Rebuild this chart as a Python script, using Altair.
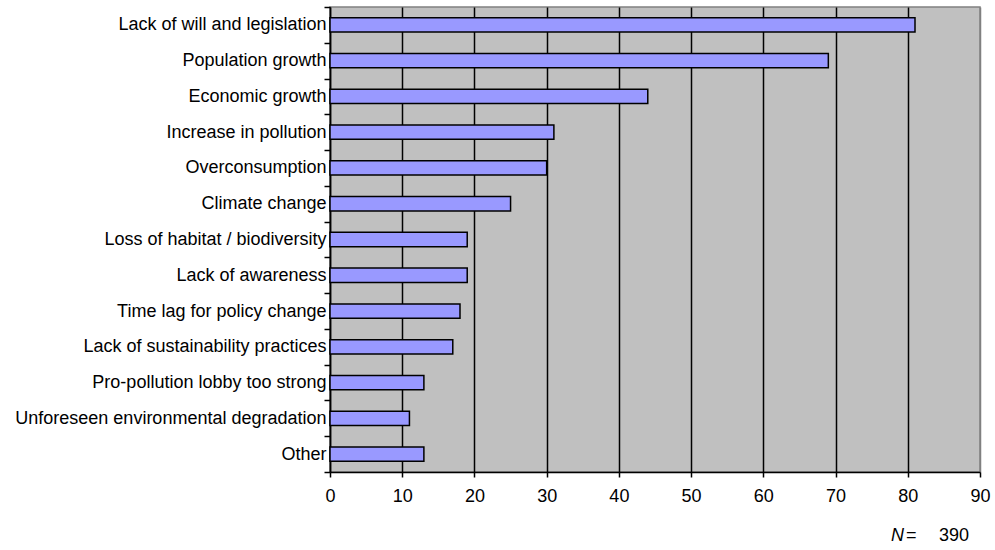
import altair as alt
import pandas as pd

# Perceived obstacles to sustainability (number of respondents)
categories = [
    "Lack of will and legislation",
    "Population growth",
    "Economic growth",
    "Increase in pollution",
    "Overconsumption",
    "Climate change",
    "Loss of habitat / biodiversity",
    "Lack of awareness",
    "Time lag for policy change",
    "Lack of sustainability practices",
    "Pro-pollution lobby too strong",
    "Unforeseen environmental degradation",
    "Other",
]
counts = [81, 69, 44, 31, 30, 25, 19, 19, 18, 17, 13, 11, 13]
x_ticks = [0, 10, 20, 30, 40, 50, 60, 70, 80, 90]

df = pd.DataFrame({"cause": categories, "count": counts})

FONT = "Liberation Sans"
W, H = 650, 465

bars = alt.Chart(df).mark_bar(
    color="#9999FF", stroke="black", strokeWidth=1.5,
    height=alt.RelativeBandSize(0.4),
).encode(
    x=alt.X(
        "count:Q",
        scale=alt.Scale(domain=[0, 90], nice=False),
        axis=alt.Axis(
            values=x_ticks, title=None, grid=True,
            gridColor={"condition": {"test": "datum.value == 90", "value": "#808080"},
                       "value": "black"},
            gridWidth=1.5, domainColor="black", domainWidth=1.5,
            tickColor="black", tickWidth=1.5, tickSize=5,
            labelFont=FONT, labelFontSize=18, labelColor="black",
            labelPadding=10, labelFlush=False,
        ),
    ),
    y=alt.Y(
        "cause:N",
        sort=categories,
        scale=alt.Scale(paddingInner=0, paddingOuter=0),
        axis=alt.Axis(
            title=None, tickBand="extent", grid=False,
            domainColor="black", domainWidth=1.5,
            tickColor="black", tickWidth=1.5, tickSize=6,
            labelFont=FONT, labelFontSize=18, labelColor="black",
            labelPadding=-2, labelLimit=400,
        ),
    ),
)

note_style = dict(font=FONT, fontSize=18, color="black", baseline="middle")
n_label = alt.Chart(pd.DataFrame({"t": ["N"]})).mark_text(
    align="left", fontStyle="italic", **note_style
).encode(text="t:N", x=alt.value(561), y=alt.value(529))
eq_label = alt.Chart(pd.DataFrame({"t": ["="]})).mark_text(
    align="left", **note_style
).encode(text="t:N", x=alt.value(576), y=alt.value(529))
n_value = alt.Chart(pd.DataFrame({"t": ["390"]})).mark_text(
    align="right", **note_style
).encode(text="t:N", x=alt.value(639), y=alt.value(529))

chart = alt.layer(bars, n_label, eq_label, n_value).properties(
    width=W, height=H,
    autosize=alt.AutoSizeParams(type="none"),
    padding={"left": 330, "top": 7, "right": 15, "bottom": 78},
    background="white",
).configure_view(
    fill="#C0C0C0", stroke="#808080", strokeWidth=1.5,
)

chart.save("out.html", embed_options={"renderer": "svg", "actions": False})
